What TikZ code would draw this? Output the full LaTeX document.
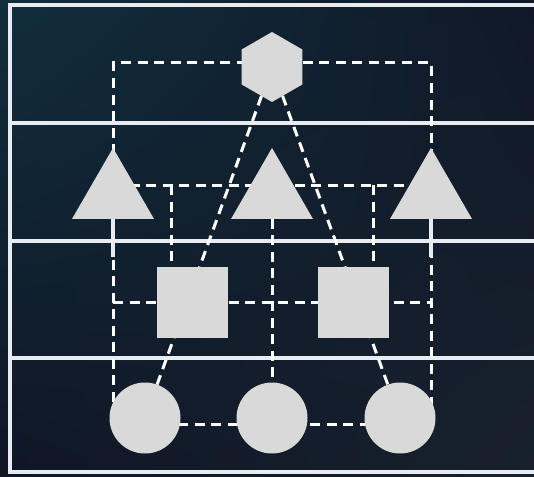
\documentclass[tikz,border=0pt]{standalone}
\usetikzlibrary{shapes.geometric,shadings}

\definecolor{shapegray}{RGB}{217,217,217}
\definecolor{bgteal}{RGB}{17,46,61}
\definecolor{bgnavy}{RGB}{16,24,40}
\definecolor{bgdeep}{RGB}{15,22,38}
\definecolor{bgslate}{RGB}{24,33,45}
\definecolor{railwhite}{RGB}{232,236,240}

\pgfdeclarelayer{back}
\pgfdeclarelayer{wires}
\pgfsetlayers{back,wires,main}

\begin{document}
\begin{tikzpicture}[x=1pt,y=-1pt,
    link/.style={draw=white, line width=3pt, dash pattern=on 10pt off 6.5pt},
    rail/.style={draw=railwhite, line width=3.2pt},
    piece/.style={fill=shapegray, draw=none, inner sep=0pt, outer sep=0pt},
    hexa/.style={piece, regular polygon, regular polygon sides=6,
        shape border rotate=30, minimum size=70pt},
    tri/.style={piece, regular polygon, regular polygon sides=3, minimum size=94.7pt},
    sq/.style={piece, rectangle, minimum size=71pt},
    disc/.style={piece, circle, minimum size=71pt}]
    \useasboundingbox (0,0) rectangle (534,476);

    %Draw the background
    \begin{pgfonlayer}{back}
        \shade[upper left=bgteal, upper right=bgnavy, lower left=bgdeep, lower right=bgslate]
        (0,0) rectangle (534,476);
        \draw[rail] (534,5) -- (10,5) -- (10,472) -- (534,472);
        \draw[rail] (10,123) -- (534,123);
        \draw[rail] (10,241) -- (534,241);
        \draw[rail] (10,358) -- (534,358);
    \end{pgfonlayer}

    %Draw the shapes, top to bottom
    \node[hexa] (hex) at (272,67) {};
    \node[tri] (t1) at (113,195.3) {};
    \node[tri] (t2) at (272,195.3) {};
    \node[tri] (t3) at (431,195.3) {};
    \node[sq] (s1) at (192,302) {};
    \node[sq] (s2) at (353,302) {};
    \node[disc] (c1) at (145,418) {};
    \node[disc] (c2) at (272,418) {};
    \node[disc] (c3) at (400,418) {};

    \coordinate (j1) at (171,185);
    \coordinate (j2) at (373,185);
    \coordinate (l1) at (113,257);
    \coordinate (l3) at (431,257);

    %Draw the links behind the shapes
    \begin{pgfonlayer}{wires}
        \draw[link] (t1.center |- c1.center) -- (t1.center |- 0,63)
            -- (t3.center |- 0,63) -- (t3.center |- c3.center);
        \draw[link] ([yshift=10.3pt]t1.center) -- ([yshift=10.3pt]t3.center);
        \draw[link] (j1) -- (j1 |- s1.center);
        \draw[link] (j2) -- (j2 |- s2.center);
        \draw[link] (t1.center |- s1.center) -- (t3.center |- s2.center);
        \draw[link] (t2) -- (c2);
        \draw[link] (hex) -- (c1);
        \draw[link] (hex) -- (c3);
        \draw[link] ([yshift=-6pt]c1.center) -- ([yshift=-6pt]c3.center);
        \draw[rail] (t1) -- (l1);
        \draw[rail] (t3) -- (l3);
    \end{pgfonlayer}

\end{tikzpicture}
\end{document}
